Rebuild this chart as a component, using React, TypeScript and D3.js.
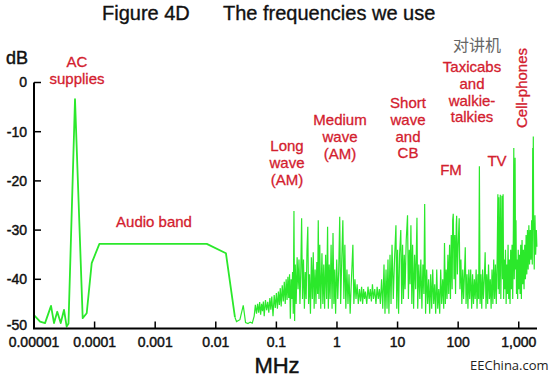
import React from 'react';
import * as d3 from 'd3';

// ---------- data ----------
const xTickValues = [1e-5, 1e-4, 1e-3, 1e-2, 1e-1, 1, 10, 100, 1000];
const xTickLabels = ['0.00001', '0.0001', '0.001', '0.01', '0.1', '1', '10', '100', '1,000'];
const yTickValues = [0, -10, -20, -30, -40, -50];
const yTickLabels = ['0', '-10', '-20', '-30', '-40', '-50'];

// AC supplies peak and audio band (MHz, dB)
const lowBandMHz = [1e-5, 1.26e-5, 1.52e-5, 1.91e-5, 2.14e-5, 2.42e-5, 2.76e-5, 3.13e-5, 3.46e-5, 3.71e-5, 4.75e-5, 6.36e-5, 7.41e-5, 8.96e-5, 1.2e-4, 7.1e-3, 1.47e-2, 2.07e-2];
const lowBandDb = [-47.3, -48.6, -48.9, -45.4, -48.9, -46.6, -48.9, -46.2, -49.6, -49, -3.4, -47.9, -46.9, -36.7, -32.8, -32.8, -34.7, -47.7];

// Long wave and medium wave region [MHz, dB]
const longMediumWave: [number, number][] = [
  [0.0207, -47.7], [0.022, -48.6], [0.025, -48.2], [0.0284, -45.3], [0.031, -48.8], [0.034, -49], [0.037, -48.7], [0.04, -48.9],
  [0.043, -47.5], [0.045, -45.2], [0.047, -47], [0.049, -45], [0.051, -46.8], [0.053, -44.6], [0.055, -47.2], [0.057, -45],
  [0.059, -46.5], [0.061, -44.5], [0.063, -47.5], [0.066, -44.2], [0.069, -46.3], [0.072, -44.6], [0.075, -46.8], [0.078, -43.8],
  [0.081, -46.2], [0.084, -43.5], [0.088, -47.5], [0.092, -43.2], [0.096, -45.8], [0.1, -42.8], [0.104, -46], [0.108, -42.5],
  [0.112, -45.2], [0.116, -41.8], [0.12, -45.5], [0.125, -41.2], [0.13, -44.5], [0.135, -40.5], [0.14, -45], [0.145, -40],
  [0.15, -44.2], [0.155, -39.5], [0.16, -43.8], [0.165, -39], [0.17, -48], [0.175, -40], [0.18, -44], [0.185, -38.5],
  [0.19, -47], [0.195, -26.1], [0.2, -48.5], [0.205, -37], [0.212, -45], [0.22, -35.5], [0.228, -42], [0.236, -36],
  [0.245, -45], [0.253, -38], [0.261, -27.6], [0.27, -44], [0.28, -36], [0.29, -46], [0.3, -38.5], [0.31, -44],
  [0.32, -34], [0.33, -29.3], [0.34, -45], [0.352, -39], [0.365, -47], [0.378, -35.5], [0.392, -44], [0.406, -34.5],
  [0.42, -46], [0.435, -38], [0.45, -45], [0.465, -36.5], [0.48, -43], [0.491, -28], [0.505, -44], [0.52, -33],
  [0.54, -46], [0.565, -34.7], [0.585, -45], [0.605, -37], [0.625, -46], [0.65, -35], [0.675, -44], [0.7, -29.3],
  [0.72, -46], [0.745, -37], [0.77, -44], [0.8, -33], [0.83, -46], [0.86, -30.6], [0.89, -45], [0.92, -38],
  [0.95, -47], [0.99, -36], [1.03, -44], [1.07, -38], [1.11, -27.3], [1.15, -45], [1.2, -36], [1.25, -28],
  [1.3, -44], [1.35, -33], [1.4, -46], [1.46, -38], [1.52, -45], [1.58, -39], [1.65, -47], [1.72, -41],
  [1.83, -33], [1.9, -45], [1.98, -40],
];

// Short wave and CB region [MHz, dB]
const shortWave: [number, number][] = [
  [2.06, -44], [2.15, -41], [2.25, -45], [2.35, -42], [2.45, -44.5], [2.55, -41.5], [2.65, -45], [2.75, -42],
  [2.85, -44], [2.95, -42.5], [3.1, -45], [3.25, -41.5], [3.4, -44], [3.55, -42], [3.7, -44.5], [3.85, -41],
  [4.0, -44], [4.2, -42], [4.4, -45], [4.6, -41.5], [4.8, -44], [5.0, -42], [5.2, -45], [5.45, -40],
  [5.7, -46], [5.97, -37], [6.2, -47], [6.45, -38], [6.7, -46], [6.95, -36], [7.2, -47], [7.5, -35],
  [7.8, -45], [8.1, -33], [8.5, -44], [8.9, -36], [9.4, -29], [9.7, -46], [10.0, -34], [10.4, -47],
  [10.8, -35], [11.3, -30], [11.7, -45], [12.1, -33], [12.5, -44], [12.9, -35], [13.3, -42], [13.9, -32],
  [14.6, -27], [15.1, -44], [15.6, -34], [16.1, -41], [16.6, -29], [17.2, -45], [17.7, -33], [18.4, -46],
  [19.1, -35], [19.9, -42], [20.9, -27.5], [21.5, -46], [22.4, -37], [23.3, -44], [24.2, -36], [25.2, -46],
  [26.2, -37], [27.2, -43], [28.0, -24.7], [29.0, -47], [30.2, -38], [31.4, -45], [32.6, -40], [33.9, -47],
  [35.2, -39], [36.6, -46], [38.0, -38], [39.5, -45], [41.0, -41], [42.6, -47], [44.3, -38], [46.0, -46],
  [47.8, -42], [49.6, -47], [51.5, -38], [53.5, -45], [55.6, -40], [57.8, -46], [59.5, -32.6],
];

// FM, TV, taxicabs and cell-phones region [MHz, dB]
const vhfUhf: [number, number][] = [
  [61.5, -45], [63.5, -38], [65.5, -44], [67.7, -35], [69.9, -43], [72.2, -33], [74.6, -44], [77, -31],
  [79.5, -42], [81.2, -28], [83, -26.7], [85.5, -40], [88, -31], [90.5, -43], [93, -29], [94.4, -27.1],
  [97, -39], [100, -33], [104, -27.6], [107, -42], [111, -36], [115, -45], [119, -38], [123, -44],
  [127, -39], [131, -33.5], [135, -45], [140, -39], [145, -46], [150, -38], [155, -44], [161, -38],
  [167, -46], [173, -39], [179, -45], [185, -40], [191, -44], [198, -38], [205, -46], [212, -39],
  [218, -44], [224, -17], [230, -45], [237, -39], [245, -46], [253, -38], [261, -44], [270, -40],
  [279, -34.5], [288, -46], [297, -39], [307, -45], [317, -37], [328, -44], [339, -40], [350, -46],
  [362, -38], [374, -45], [386, -36], [399, -44], [412, -37], [426, -45], [440, -36], [452, -22.7],
  [460, -42], [468, -23.3], [477, -43], [486, -35], [496, -22.8], [506, -44], [516, -34], [528, -23],
  [540, -40], [552, -22.7], [563, -44], [576, -36], [590, -42], [604, -34], [619, -45], [634, -37],
  [650, -43], [666, -33], [683, -44], [700, -36], [718, -45], [736, -34], [755, -42], [775, -33],
  [795, -44], [815, -30], [828, -13.3], [842, -40], [856, -35], [870, -15.3], [885, -38], [900, -28],
  [918, -43], [938, -36], [958, -44], [980, -34], [1003, -42], [1027, -35], [1052, -43], [1078, -33],
  [1105, -44], [1133, -32], [1162, -41], [1192, -34], [1223, -42], [1255, -33], [1288, -40], [1322, -31],
  [1357, -39], [1393, -30], [1430, -38], [1468, -29], [1507, -37], [1547, -30], [1588, -36], [1630, -28],
  [1672, -37], [1700, -13.3], [1715, -30], [1738, -11], [1760, -29], [1800, -38], [1850, -27], [1900, -35],
  [1950, -30], [1990, -33.4],
];

// band annotations (text lines)
const bandLabels = [
  { lines: ['AC', 'supplies'], x: 77, y: 67 },
  { lines: ['Audio band'], x: 154, y: 227 },
  { lines: ['Long', 'wave', '(AM)'], x: 287, y: 151 },
  { lines: ['Medium', 'wave', '(AM)'], x: 340, y: 125 },
  { lines: ['Short', 'wave', 'and', 'CB'], x: 408, y: 108 },
  { lines: ['FM'], x: 451, y: 175 },
  { lines: ['TV'], x: 497, y: 166 },
  { lines: ['Taxicabs', 'and', 'walkie-', 'talkies'], x: 472, y: 72 },
];

// ---------- chart ----------
const W = 552;
const H = 378;
const FONT = "'Liberation Sans', Arial, Helvetica, sans-serif";
const RED = '#d3202e';
const GREEN = '#2be82b';
const INK = '#111';

export default function App() {
  const x = d3.scaleLog().domain([1e-5, 2000]).range([34, 537]);
  const y = d3.scaleLinear().domain([-50, 0]).range([328.5, 82.5]);

  const line = d3
    .line<[number, number]>()
    .x((d) => x(d[0]))
    .y((d) => y(d[1]));

  const lowPts: [number, number][] = lowBandMHz.map((f, i) => [f, lowBandDb[i]]);
  const rfPts: [number, number][] = [...longMediumWave, ...shortWave, ...vhfUhf];

  const x0 = x.range()[0];
  const x1 = x.range()[1];
  const yTop = y(0);
  const yBot = y(-50);

  return (
    <svg
      width={W}
      height={H}
      viewBox={`0 0 ${W} ${H}`}
      style={{ position: 'absolute', left: 0, top: 0, display: 'block', background: '#fff' }}
      fontFamily={FONT}
    >
      <rect x={0} y={0} width={W} height={H} fill="#fff" />
      {/* title */}
      <g fill={INK} stroke={INK} strokeWidth={0.35}>
        <text x={102} y={20} fontSize={20}>Figure 4D</text>
        <text x={223} y={20} fontSize={20}>The frequencies we use</text>
      </g>

      {/* data */}
      <path d={line(lowPts) || ''} fill="none" stroke={GREEN} strokeWidth={1.8} strokeLinejoin="round" />
      <path d={line(rfPts) || ''} fill="none" stroke={GREEN} strokeWidth={1.2} strokeLinejoin="miter" />

      {/* axes */}
      <line x1={x0} x2={x0} y1={yTop} y2={yBot} stroke="#000" strokeWidth={2} />
      <line x1={x0 - 1} x2={x1} y1={yBot} y2={yBot} stroke="#000" strokeWidth={2} />
      <g fill={INK} stroke={INK} strokeWidth={0.45}>
        {yTickValues.map((v, i) => (
          <g key={'y' + v}>
            {v !== -50 && <line x1={x0} x2={x0 + 7} y1={y(v)} y2={y(v)} stroke="#000" strokeWidth={1.5} />}
            <text x={27} y={v === -50 ? y(v) - 3 : y(v)} dy="0.35em" fontSize={14} textAnchor="end">
              {yTickLabels[i]}
            </text>
          </g>
        ))}
        {xTickValues.map((v, i) => (
          <g key={'x' + i}>
            {i > 0 && <line x1={x(v)} x2={x(v)} y1={yBot} y2={yBot - 7} stroke="#000" strokeWidth={1.5} />}
            <text x={x(v)} y={347} fontSize={14} textAnchor="middle">
              {xTickLabels[i]}
            </text>
          </g>
        ))}
        <text x={6} y={64} fontSize={18}>dB</text>
        <text x={277} y={373} fontSize={22} textAnchor="middle">MHz</text>
      </g>

      {/* band labels */}
      <g fill={RED} stroke={RED} strokeWidth={0.3}>
        {bandLabels.map((b, i) => (
          <text key={'b' + i} x={b.x} y={b.y} fontSize={15} textAnchor="middle">
            {b.lines.map((l, j) => (
              <tspan key={j} x={b.x} dy={j === 0 ? 0 : 16.8}>
                {l}
              </tspan>
            ))}
          </text>
        ))}
        <text x={527} y={88} fontSize={15} textAnchor="middle" transform="rotate(-90 527 88)">
          Cell-phones
        </text>
      </g>

      {/* watermark texts */}
      <text x={453} y={51} fontSize={16} fill="#666" fontFamily="'Noto Sans CJK SC', sans-serif">对讲机</text>
      <text x={470} y={370} fontSize={13} fill="#222" fontFamily="'Open Sans', 'Liberation Sans', sans-serif">EEChina.com</text>
    </svg>
  );
}
